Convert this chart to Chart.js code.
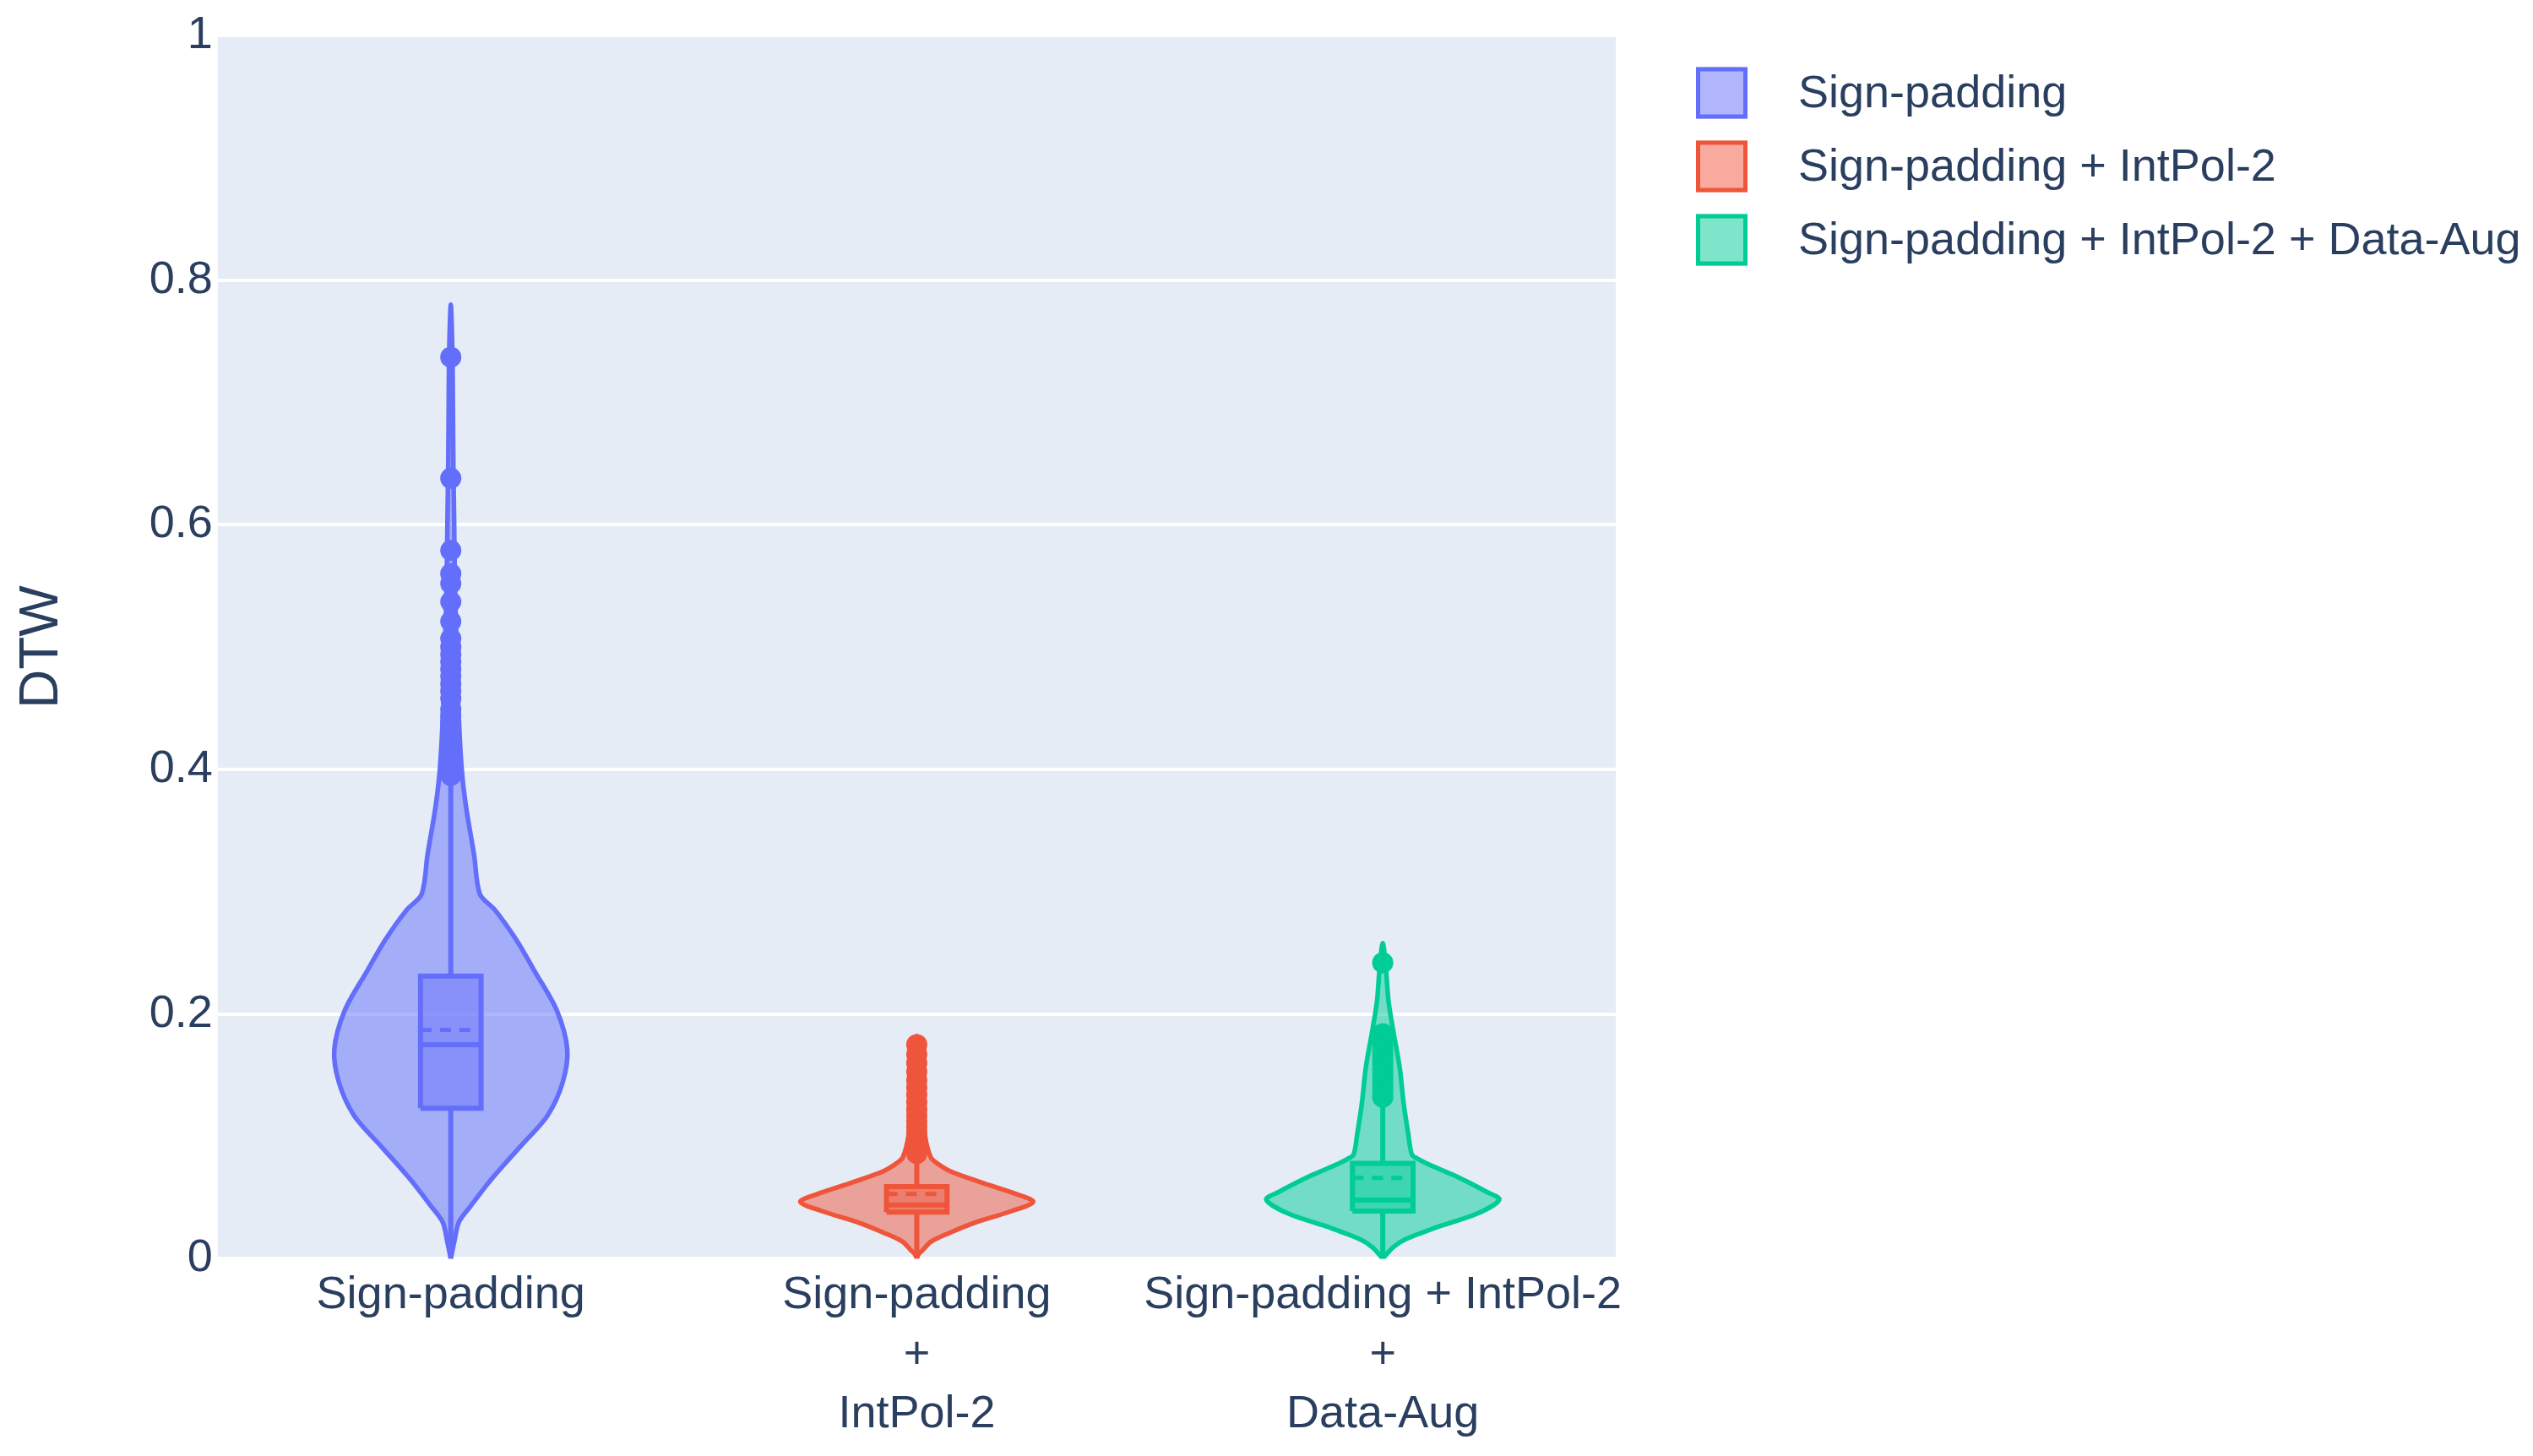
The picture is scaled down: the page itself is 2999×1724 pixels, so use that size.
<!DOCTYPE html>
<html>
<head>
<meta charset="utf-8">
<script src="https://cdn.jsdelivr.net/npm/chart.js@4.4.1/dist/chart.umd.min.js"></script>
<style>
html, body { margin: 0; padding: 0; background: #ffffff; }
#wrap { width: 2999px; height: 1724px; }
</style>
</head>
<body>
<div id="wrap"><canvas id="c" width="2999" height="1724"></canvas></div>
<script>
// ---------- DATA ----------
const categories = [['Sign-padding'], ['Sign-padding', '+', 'IntPol-2'], ['Sign-padding + IntPol-2', '+', 'Data-Aug']];
const seriesNames = ['Sign-padding', 'Sign-padding + IntPol-2', 'Sign-padding + IntPol-2 + Data-Aug'];
const yTicks = [0, 0.2, 0.4, 0.6, 0.8, 1];

// violin outline: DTW values and relative density (half-width, max = 1)
const blueDtw = [0, 0.014, 0.030, 0.043, 0.064, 0.091, 0.117, 0.144, 0.171, 0.203, 0.235, 0.261, 0.285, 0.298, 0.330, 0.370, 0.400, 0.450, 0.500, 0.550, 0.600, 0.650, 0.700, 0.740, 0.780];
const blueDensity = [0, 0.03, 0.07, 0.17, 0.34, 0.59, 0.83, 0.96, 1.00, 0.91, 0.72, 0.56, 0.38, 0.25, 0.20, 0.13, 0.094, 0.065, 0.05, 0.036, 0.029, 0.022, 0.018, 0.014, 0];
const redDtw = [0, 0.0035, 0.0069, 0.0138, 0.0207, 0.0299, 0.0391, 0.0465, 0.053, 0.0622, 0.0714, 0.0783, 0.0829, 0.100, 0.130, 0.160, 0.182];
const redDensity = [0, 0.014, 0.05, 0.12, 0.27, 0.51, 0.82, 1.00, 0.85, 0.56, 0.29, 0.17, 0.12, 0.072, 0.043, 0.022, 0];
const greenDtw = [0, 0.0092, 0.0161, 0.0253, 0.0368, 0.0483, 0.0552, 0.0622, 0.0691, 0.076, 0.0817, 0.0852, 0.1013, 0.1266, 0.1565, 0.1842, 0.210, 0.235, 0.258];
const greenDensity = [0, 0.087, 0.20, 0.45, 0.81, 1.00, 0.88, 0.74, 0.59, 0.42, 0.30, 0.25, 0.22, 0.18, 0.145, 0.094, 0.05, 0.029, 0];

// inner box statistics (per category)
const q1 = [0.123, 0.038, 0.039];
const median = [0.175, 0.044, 0.048];
const mean = [0.187, 0.053, 0.066];
const q3 = [0.231, 0.059, 0.078];
const whiskerLow = [0, 0.002, 0];
const whiskerHigh = [0.393, 0.084, 0.130];

// outlier points
const blueOutliers = [0.737, 0.638, 0.579, 0.560, 0.552, 0.537, 0.521, 0.507, 0.500, 0.494, 0.488, 0.482, 0.476, 0.470, 0.464, 0.458, 0.449, 0.444, 0.439, 0.434, 0.429, 0.424, 0.419, 0.414, 0.409, 0.404, 0.399, 0.395];
const redOutliers = [0.175, 0.167, 0.160, 0.153, 0.146, 0.140, 0.134, 0.128, 0.122, 0.117, 0.112, 0.107, 0.102, 0.098, 0.094, 0.090, 0.086];
const greenOutliers = [0.242, 0.184, 0.179, 0.175, 0.171, 0.167, 0.163, 0.159, 0.155, 0.151, 0.147, 0.143, 0.139, 0.135, 0.132];

// ---------- STYLE ----------
const colors = ['#636EFA', '#EF553B', '#00CC96'];
const fills = ['rgba(99,110,250,0.5)', 'rgba(239,85,59,0.5)', 'rgba(0,204,150,0.5)'];
const boxFills = ['rgba(99,110,250,0.45)', 'rgba(239,85,59,0.45)', 'rgba(0,204,150,0.45)'];
const textColor = '#2a3f5f';
const FONT = 'Liberation Sans';
const VW = 0.25;   // max violin half width (category units)
const BW = 0.065;  // inner box half width (category units)

const profiles = [[blueDtw, blueDensity], [redDtw, redDensity], [greenDtw, greenDensity]];
const outliers = [blueOutliers, redOutliers, greenOutliers];

function violinPoints(i, dtw, dens) {
  const right = dtw.map((v, k) => ({x: i + dens[k] * VW, y: v}));
  const left = dtw.map((v, k) => ({x: i - dens[k] * VW, y: v})).reverse();
  return right.concat(left.slice(1));
}

const base = {xAxisID: 'xv', yAxisID: 'y', pointRadius: 0, pointHoverRadius: 0, type: 'line'};
const datasets = [];
for (let i = 0; i < 3; i++) {
  datasets.push(Object.assign({}, base, {
    label: seriesNames[i],
    data: violinPoints(i, profiles[i][0], profiles[i][1]),
    borderColor: colors[i], backgroundColor: fills[i], borderWidth: 5.5,
    fill: 'shape', tension: 0.3, order: 5, borderJoinStyle: 'round'
  }));
}
for (let i = 0; i < 3; i++) {
  datasets.push(Object.assign({}, base, {
    label: 'whisker' + i,
    data: [{x: i, y: whiskerLow[i]}, {x: i, y: q1[i]}, {x: i, y: null}, {x: i, y: q3[i]}, {x: i, y: whiskerHigh[i]}],
    borderColor: colors[i], borderWidth: 6, fill: false, spanGaps: false, order: 4
  }));
  datasets.push(Object.assign({}, base, {
    label: 'box' + i,
    data: [{x: i - BW, y: q1[i]}, {x: i + BW, y: q1[i]}, {x: i + BW, y: q3[i]}, {x: i - BW, y: q3[i]}, {x: i - BW, y: q1[i]}],
    borderColor: colors[i], backgroundColor: boxFills[i], borderWidth: 6,
    fill: 'shape', tension: 0, order: 3, borderJoinStyle: 'miter'
  }));
  datasets.push(Object.assign({}, base, {
    label: 'median' + i,
    data: [{x: i - BW, y: median[i]}, {x: i + BW, y: median[i]}],
    borderColor: colors[i], borderWidth: 6, fill: false, order: 2
  }));
  datasets.push(Object.assign({}, base, {
    label: 'mean' + i,
    data: [{x: i - BW, y: mean[i]}, {x: i + BW, y: mean[i]}],
    borderColor: colors[i], borderWidth: 5, borderDash: [13, 10], fill: false, order: 2
  }));
  datasets.push(Object.assign({}, base, {
    label: 'outliers' + i,
    data: outliers[i].map(v => ({x: i, y: v})),
    showLine: false, pointRadius: 12.5, pointHoverRadius: 12.5,
    pointBackgroundColor: colors[i], pointBorderWidth: 0, order: 1
  }));
}

const plotBg = {
  id: 'plotBg',
  beforeDraw(chart) {
    const {ctx, chartArea: a} = chart;
    ctx.save();
    ctx.fillStyle = '#E5ECF6';
    ctx.fillRect(a.left, a.top, a.right - a.left, a.bottom - a.top);
    ctx.restore();
  }
};

// legend drawn on the canvas to the right of the plot area
const violinLegend = {
  id: 'violinLegend',
  afterDraw(chart) {
    const {ctx, chartArea: a} = chart;
    ctx.save();
    ctx.font = '54px "' + FONT + '"';
    ctx.textBaseline = 'middle';
    ctx.textAlign = 'left';
    seriesNames.forEach((name, i) => {
      const cy = a.top + 68 + i * 87;
      const bx = a.right + 95;
      ctx.fillStyle = fills[i];
      ctx.fillRect(bx, cy - 30.5, 61, 61);
      ctx.strokeStyle = colors[i];
      ctx.lineWidth = 5;
      ctx.strokeRect(bx + 2.5, cy - 28, 56, 56);
      ctx.fillStyle = textColor;
      ctx.fillText(name, bx + 121, cy + 2);
    });
    ctx.restore();
  }
};

Chart.defaults.font.family = FONT;
Chart.defaults.color = textColor;

new Chart(document.getElementById('c'), {
  type: 'line',
  data: {datasets},
  options: {
    responsive: false,
    animation: false,
    events: [],
    layout: {padding: {left: 5, top: 42, right: 1086, bottom: 5}},
    plugins: {
      tooltip: {enabled: false},
      legend: {display: false}
    },
    scales: {
      x: {
        type: 'category', labels: categories, offset: true,
        grid: {display: false, drawTicks: false}, border: {display: false},
        ticks: {padding: 9, maxRotation: 0, autoSkip: false, color: textColor,
                font: {family: FONT, size: 54, lineHeight: 1.3}}
      },
      xv: {type: 'linear', min: -0.5, max: 2.5, display: false},
      y: {
        type: 'linear', min: 0, max: 1, position: 'left',
        afterBuildTicks: s => { s.ticks = yTicks.map(v => ({value: v})); },
        grid: {color: '#ffffff', lineWidth: 4, drawTicks: false},
        border: {display: false},
        ticks: {padding: 6, color: textColor, font: {family: FONT, size: 54},
                callback: v => String(v)},
        title: {display: true, text: 'DTW', color: textColor,
                font: {family: FONT, size: 64}, padding: {top: 7, bottom: 82}}
      }
    }
  },
  plugins: [plotBg, violinLegend]
});
</script>
</body>
</html>
